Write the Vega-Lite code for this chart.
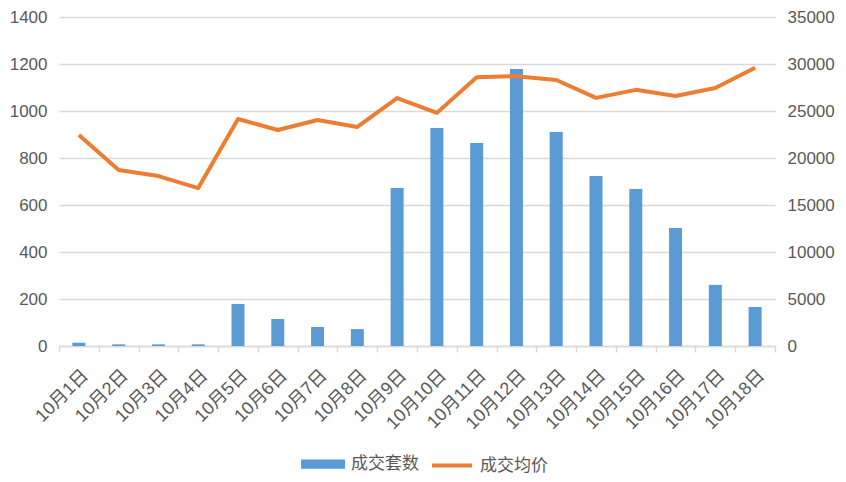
{
  "$schema": "https://vega.github.io/schema/vega-lite/v6.json",
  "description": "10月1日至10月18日成交套数与成交均价",
  "width": 716,
  "height": 329,
  "autosize": {"type": "none"},
  "padding": {"left": 59, "top": 17, "right": 71, "bottom": 136},
  "background": "white",
  "config": {
    "view": {"stroke": null},
    "font": "Liberation Sans, Noto Sans CJK SC",
    "axis": {
      "labelColor": "#595959",
      "labelFontSize": 17,
      "labelFont": "Liberation Sans, Noto Sans CJK SC",
      "title": null
    }
  },
  "data": {
    "values": [
      {"date": "10月1日", "units": 14, "price": 22450},
      {"date": "10月2日", "units": 7, "price": 18720},
      {"date": "10月3日", "units": 7, "price": 18080},
      {"date": "10月4日", "units": 7, "price": 16800},
      {"date": "10月5日", "units": 179, "price": 24150},
      {"date": "10月6日", "units": 115, "price": 22980},
      {"date": "10月7日", "units": 81, "price": 24040},
      {"date": "10月8日", "units": 72, "price": 23300},
      {"date": "10月9日", "units": 672, "price": 26380},
      {"date": "10月10日", "units": 928, "price": 24800},
      {"date": "10月11日", "units": 864, "price": 28600},
      {"date": "10月12日", "units": 1179, "price": 28700},
      {"date": "10月13日", "units": 911, "price": 28300},
      {"date": "10月14日", "units": 723, "price": 26400},
      {"date": "10月15日", "units": 668, "price": 27250},
      {"date": "10月16日", "units": 502, "price": 26600},
      {"date": "10月17日", "units": 260, "price": 27450},
      {"date": "10月18日", "units": 166, "price": 29600}
    ]
  },
  "encoding": {
    "x": {
      "field": "date",
      "type": "ordinal",
      "sort": null,
      "scale": {"paddingInner": 0, "paddingOuter": 0},
      "axis": {
        "labelAngle": -45,
        "labelFontSize": 18,
        "domainColor": "#d9d9d9",
        "domainWidth": 1.5,
        "tickColor": "#d9d9d9",
        "tickWidth": 1.5,
        "tickSize": 6,
        "tickBand": "extent",
        "labelPadding": 14
      }
    }
  },
  "layer": [
    {
      "mark": {"type": "bar", "size": 13},
      "encoding": {
        "y": {
          "field": "units",
          "type": "quantitative",
          "scale": {"domain": [0, 1400]},
          "axis": {
            "orient": "left",
            "values": [0, 200, 400, 600, 800, 1000, 1200, 1400],
            "format": "d",
            "domain": false,
            "ticks": false,
            "gridColor": "#d9d9d9",
            "gridWidth": 1.5,
            "labelPadding": 12
          }
        },
        "color": {
          "datum": "成交套数",
          "scale": {"domain": ["成交套数", "成交均价"], "range": ["#5b9bd5", "#ed7d31"]},
          "legend": {
            "orient": "none",
            "direction": "horizontal",
            "title": null,
            "legendX": 242,
            "legendY": 425,
            "padding": 0,
            "symbolSize": 1600,
            "labelFontSize": 17,
            "labelColor": "#595959",
            "labelOffset": 6,
            "columnPadding": 5,
            "encode": {
              "symbols": {
                "update": {
                  "shape": {"signal": "datum.value === '成交均价' ? 'M-1,0H1' : 'M-1,-0.13H1V0.13H-1Z'"},
                  "fill": {"signal": "datum.value === '成交均价' ? 'transparent' : '#5b9bd5'"},
                  "stroke": {"signal": "datum.value === '成交均价' ? '#ed7d31' : 'transparent'"},
                  "strokeWidth": {"value": 4},
                  "opacity": {"value": 1}
                }
              }
            }
          }
        }
      }
    },
    {
      "mark": {"type": "line", "strokeWidth": 4, "strokeJoin": "round"},
      "encoding": {
        "y": {
          "field": "price",
          "type": "quantitative",
          "scale": {"domain": [0, 35000]},
          "axis": {
            "orient": "right",
            "values": [0, 5000, 10000, 15000, 20000, 25000, 30000, 35000],
            "format": "d",
            "domain": false,
            "ticks": false,
            "grid": false,
            "labelPadding": 12
          }
        },
        "color": {"datum": "成交均价"}
      }
    }
  ],
  "resolve": {"scale": {"y": "independent"}}
}
